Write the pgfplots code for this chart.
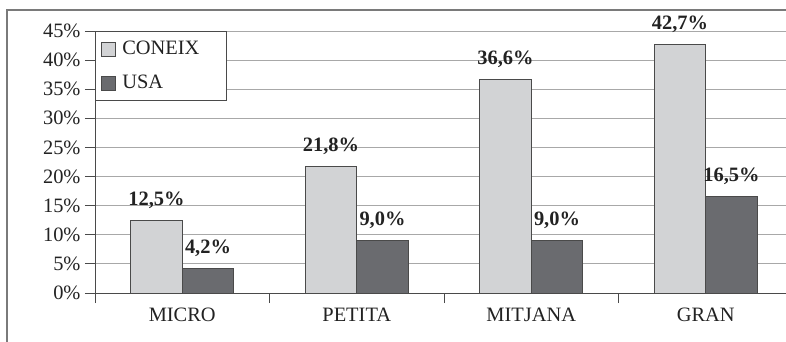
\documentclass[border=0pt]{standalone}
\usepackage{fontspec}
\setmainfont{Liberation Serif}
\usepackage{pgfplots}
\pgfplotsset{compat=1.18}

\definecolor{barlight}{HTML}{D2D3D5}
\definecolor{bardark}{HTML}{6A6B6F}
\definecolor{gridgray}{HTML}{A8A8A8}
\definecolor{axisgray}{HTML}{4A4A4A}
\definecolor{framegray}{HTML}{7A7A7A}
\definecolor{textdark}{HTML}{222222}

\newcommand{\chartfont}{\fontsize{20.5}{24}\selectfont}

\begin{document}
\begin{tikzpicture}
\useasboundingbox (0,0) rectangle (786bp,342bp);
% outer frame (left and top edges)
\draw[framegray, line width=1.2bp] (7bp,-5bp) -- (7bp,332bp) -- (795bp,332bp);
\begin{axis}[
  at={(95bp,49bp)}, anchor=south west,
  scale only axis, width=691bp, height=262bp,
  xmin=-0.5, xmax=3.46, ymin=0, ymax=45,
  axis lines*=left,
  axis line style={axisgray, line width=0.9bp},
  ybar=0pt, bar width=51.5bp,
  xtick={0,1,2,3},
  xticklabels={MICRO,PETITA,MITJANA,GRAN},
  xtick style={draw=none},
  minor xtick={-0.5,0.5,1.5,2.5},
  minor tick length=10bp,
  minor x tick style={draw=axisgray, line width=0.9bp},
  ytick={0,5,...,45},
  yticklabel={\pgfmathprintnumber{\tick}\%},
  tick align=outside, major tick length=10bp,
  ytick style={draw=axisgray, line width=0.9bp},
  ymajorgrids, major grid style={gridgray, line width=0.9bp},
  /pgf/number format/assume math mode=true,
  tick label style={font=\chartfont, text=textdark},
  yticklabel style={xshift=-1bp},
  xticklabel style={yshift=-1bp},
  nodes near coords={\pgfmathprintnumber[fixed,fixed zerofill,precision=1,use comma]{\pgfplotspointmeta}\%},
  every node near coord/.append style={font=\bfseries\chartfont, text=textdark, anchor=base, yshift=15bp},
  legend cell align=left,
  legend image code/.code={\draw[#1] (0bp,-7bp) rectangle (14bp,7bp);},
  legend style={at={(0,1)}, anchor=north west, draw=axisgray, line width=0.9bp,
    fill=white, font=\chartfont, text=textdark, inner xsep=6bp, inner ysep=8bp, row sep=15bp,
    nodes={inner xsep=6bp, inner ysep=2bp, text width=92bp}},
]
\addplot[fill=barlight, draw=axisgray, line width=0.9bp]
  coordinates {(0,12.5) (1,21.8) (2,36.6) (3,42.7)};
\addlegendentry{CONEIX}
\addplot[fill=bardark, draw=axisgray, line width=0.9bp]
  coordinates {(0,4.2) (1,9.0) (2,9.0) (3,16.5)};
\addlegendentry{USA}
\end{axis}
\end{tikzpicture}
\end{document}
